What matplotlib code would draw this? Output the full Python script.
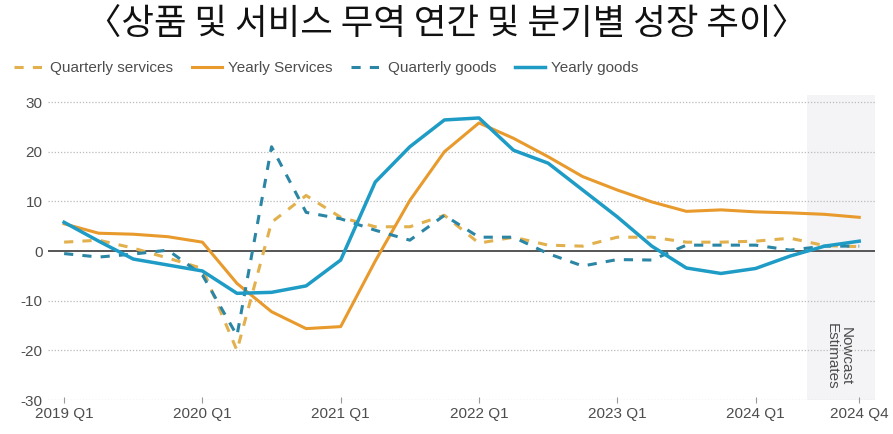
import numpy as np
import matplotlib
matplotlib.use("Agg")
import matplotlib.pyplot as plt

# ------------------------------------------------------------
# DATA (% growth)
# ------------------------------------------------------------
quarters = ["2019 Q1", "2019 Q2", "2019 Q3", "2019 Q4",
            "2020 Q1", "2020 Q2", "2020 Q3", "2020 Q4",
            "2021 Q1", "2021 Q2", "2021 Q3", "2021 Q4",
            "2022 Q1", "2022 Q2", "2022 Q3", "2022 Q4",
            "2023 Q1", "2023 Q2", "2023 Q3", "2023 Q4",
            "2024 Q1", "2024 Q2", "2024 Q3", "2024 Q4"]

quarterly_services = [1.8, 2.2, 0.6, -1.4, -3.5, -20.0, 5.8, 11.2,
                      6.8, 4.9, 4.9, 7.2, 1.6, 2.8, 1.2, 1.0,
                      2.8, 2.8, 1.8, 1.8, 2.0, 2.6, 1.1, 0.9]
yearly_services = [5.5, 3.6, 3.4, 2.9, 1.8, -6.5, -12.2, -15.6,
                   -15.2, -2.0, 10.2, 20.0, 25.8, 22.7, 19.0, 15.0,
                   12.3, 9.9, 8.0, 8.3, 7.9, 7.7, 7.4, 6.8]
quarterly_goods = [-0.5, -1.2, -0.6, 0.2, -4.8, -17.0, 21.0, 7.8,
                   6.5, 4.2, 2.2, 7.2, 2.8, 2.8, -0.5, -3.0,
                   -1.7, -1.8, 1.2, 1.2, 1.2, 0.2, 1.0, 1.0]
yearly_goods = [5.8, 2.0, -1.6, -2.8, -4.0, -8.5, -8.3, -7.0,
                -1.8, 13.9, 21.0, 26.4, 26.8, 20.3, 17.7, 12.3,
                6.9, 1.0, -3.4, -4.5, -3.5, -1.0, 1.0, 2.0]

tick_labels = ["2019 Q1", "2020 Q1", "2021 Q1", "2022 Q1",
               "2023 Q1", "2024 Q1", "2024 Q4"]

title = "〈상품 및 서비스 무역 연간 및 분기별 성장 추이〉"

# colours
c_orange = "#E89A2C"
c_orange_q = "#E2B04C"
c_blue = "#1E9CC6"
c_blue_q = "#2B86A6"
c_text = "#4D4D4D"

plt.rcParams["font.family"] = ["Liberation Sans", "DejaVu Sans"]
plt.rcParams["axes.unicode_minus"] = False

fig = plt.figure(figsize=(8.93, 4.34), dpi=100)
ax = fig.add_axes([0.054, 0.078, 0.926, 0.704])

x = np.arange(len(quarters))

# nowcast shading
ax.axvspan(21.5, 23.5, color="#F4F4F7", zorder=0, lw=0)

ax.plot(x, quarterly_services, color=c_orange_q, lw=2.2, ls=(0, (3, 3)),
        label="Quarterly services", zorder=3)
ax.plot(x, yearly_services, color=c_orange, lw=2.2,
        label="Yearly Services", zorder=3)
ax.plot(x, quarterly_goods, color=c_blue_q, lw=2.2, ls=(0, (3, 3)),
        label="Quarterly goods", zorder=3)
ax.plot(x, yearly_goods, color=c_blue, lw=2.5,
        label="Yearly goods", zorder=4)

ax.set_xlim(-0.46, 23.46)
ax.set_ylim(-30, 31.5)
ax.set_yticks(range(-30, 31, 10))
for v in range(-30, 31, 10):
    if v != 0:
        ax.axhline(v, color="#BBBBBB", lw=0.9, ls=(0, (1, 1.5)), zorder=1)
ax.axhline(0, color="#555555", lw=1.4, zorder=2)

tick_pos = [quarters.index(t) for t in tick_labels]
ax.set_xticks(tick_pos)
ax.set_xticklabels(tick_labels)
ax.tick_params(axis="x", length=4, color="#999999", direction="inout",
               labelsize=11, labelcolor=c_text, pad=3)
ax.tick_params(axis="y", length=0, labelsize=11, labelcolor=c_text, pad=4)

for s in ax.spines.values():
    s.set_visible(False)

ax.text(22.4, -14.5, "Nowcast\nEstimates", rotation=270, ha="center", va="top",
        fontsize=11, color=c_text, linespacing=1.0, zorder=5)

fig.legend(loc="upper left", bbox_to_anchor=(0.0, 0.89), ncol=4,
           frameon=False, fontsize=11, handlelength=2.0, handletextpad=0.4,
           columnspacing=1.2, labelcolor=c_text)

fig.text(0.5, 0.942, title, ha="center", va="center", fontsize=25.5,
         family=["Noto Sans CJK KR", "DejaVu Sans"], color="#111111")

fig.savefig("out.png", dpi=100)
